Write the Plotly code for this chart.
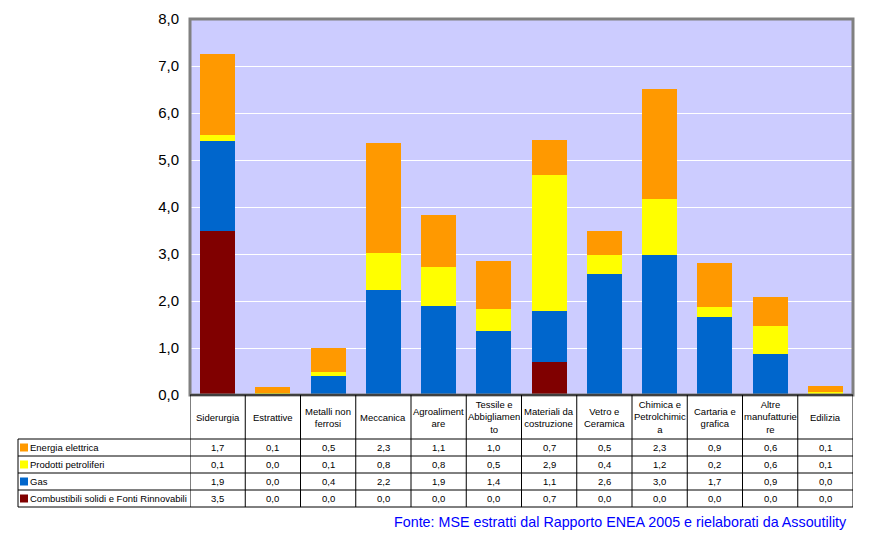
import plotly.graph_objects as go

categories = ["Siderurgia", "Estrattive", "Metalli non ferrosi", "Meccanica",
              "Agroalimentare", "Tessile e Abbigliamento", "Materiali da costruzione",
              "Vetro e Ceramica", "Chimica e Petrolchimica", "Cartaria e grafica",
              "Altre manufatturiere", "Edilizia"]
header_labels = ["Siderurgia", "Estrattive", "Metalli non<br>ferrosi", "Meccanica",
                 "Agroaliment<br>are", "Tessile e<br>Abbigliamen<br>to", "Materiali da<br>costruzione",
                 "Vetro e<br>Ceramica", "Chimica e<br>Petrolchimic<br>a", "Cartaria e<br>grafica",
                 "Altre<br>manufatturie<br>re", "Edilizia"]

combustibili = [3.50, 0.0, 0.0, 0.0, 0.0, 0.0, 0.70, 0.0, 0.0, 0.0, 0.0, 0.0]
gas = [1.91, 0.0, 0.40, 2.24, 1.89, 1.36, 1.08, 2.57, 2.97, 1.66, 0.87, 0.0]
prodotti = [0.13, 0.04, 0.09, 0.79, 0.83, 0.47, 2.91, 0.40, 1.21, 0.21, 0.59, 0.06]
energia = [1.72, 0.13, 0.51, 2.33, 1.10, 1.02, 0.74, 0.53, 2.34, 0.93, 0.62, 0.14]

series_names = ["Energia elettrica", "Prodotti petroliferi", "Gas",
                "Combustibili solidi e Fonti Rinnovabili"]
series_values = [energia, prodotti, gas, combustibili]
series_colors = ["#FF9900", "#FFFF00", "#0066CC", "#800000"]

y_ticks = [0, 1, 2, 3, 4, 5, 6, 7, 8]
source_text = "Fonte: MSE estratti dal Rapporto ENEA 2005 e rielaborati da Assoutility"

W, H = 874, 552
OFF = 8  # page body margin
FONT = "Liberation Sans, Arial, sans-serif"
TAB_FS = 9.5


def py(p):
    return 1 - (p - OFF) / H


def px(p):
    return (p - OFF) / W


x0_plot, x1_plot = 190, 853
y_top, y_base = 19, 395
y_head_bot = 439
row_h = 17
legend_left = 18

fig = go.Figure()
# stacked bottom to top
for name, vals, col in reversed(list(zip(series_names, series_values, series_colors))):
    fig.add_trace(go.Bar(x=categories, y=vals, name=name,
                         marker=dict(color=col, line=dict(width=0)), showlegend=False))

fig.update_layout(
    width=W, height=H, autosize=False,
    margin=dict(l=0, r=0, t=0, b=0, pad=0),
    paper_bgcolor="white", plot_bgcolor="#CCCCFF",
    barmode="stack", bargap=0.37,
    separators=",.",
    font=dict(family=FONT, color="#000000"),
    xaxis=dict(domain=[px(x0_plot), px(x1_plot)], range=[-0.5, len(categories) - 0.5],
               showticklabels=False, showgrid=False, zeroline=False, ticks="", automargin=False),
    yaxis=dict(domain=[py(y_base), py(y_top)], range=[0, 8], tickvals=y_ticks,
               tickformat=".1f", showgrid=True, gridcolor="white", gridwidth=1,
               zeroline=False, ticks="", ticklabelstandoff=10, automargin=False,
               tickfont=dict(size=15, family=FONT, color="#000000")),
)

# plot frame
fig.add_shape(type="rect", xref="paper", yref="paper",
              x0=px(x0_plot), x1=px(x1_plot), y0=py(y_base), y1=py(y_top),
              line=dict(color="#808080", width=3), layer="above")

shapes = []
line = dict(color="black", width=1)
shapes.append(dict(type="line", xref="paper", yref="paper", x0=px(x0_plot), x1=px(x1_plot),
                   y0=py(y_base), y1=py(y_base), line=line))
for i in range(len(series_names) + 1):
    yy = y_head_bot + i * row_h
    shapes.append(dict(type="line", xref="paper", yref="paper", x0=px(legend_left), x1=px(x1_plot),
                       y0=py(yy), y1=py(yy), line=line))
y_tab_bot = y_head_bot + len(series_names) * row_h
for k in range(len(categories) + 1):
    shapes.append(dict(type="line", xref="x", yref="paper", x0=k - 0.5, x1=k - 0.5,
                       y0=py(y_base), y1=py(y_tab_bot), line=line))
shapes.append(dict(type="line", xref="paper", yref="paper", x0=px(legend_left), x1=px(legend_left),
                   y0=py(y_head_bot), y1=py(y_tab_bot), line=line))
for i, col in enumerate(series_colors):
    cy = y_head_bot + i * row_h + row_h / 2
    shapes.append(dict(type="rect", xref="paper", yref="paper",
                       x0=px(20), x1=px(28), y0=py(cy + 4), y1=py(cy - 4),
                       fillcolor=col, line=dict(width=0)))
for s in shapes:
    fig.add_shape(**s)

for cat, lab in zip(categories, header_labels):
    fig.add_annotation(x=cat, xref="x", y=py((y_base + y_head_bot) / 2), yref="paper",
                       text=lab, showarrow=False, font=dict(size=TAB_FS, family=FONT, color="black"),
                       xanchor="center", yanchor="middle", align="center")
for i, (name, vals) in enumerate(zip(series_names, series_values)):
    cy = y_head_bot + i * row_h + row_h / 2
    fig.add_annotation(x=px(28), xref="paper", y=py(cy), yref="paper", text=name,
                       showarrow=False, xanchor="left", yanchor="middle",
                       font=dict(size=TAB_FS, family=FONT, color="black"))
    for cat, v in zip(categories, vals):
        fig.add_annotation(x=cat, xref="x", y=py(cy), yref="paper",
                           text=f"{v:.1f}".replace(".", ","), showarrow=False,
                           xanchor="center", yanchor="middle",
                           font=dict(size=TAB_FS, family=FONT, color="black"))

fig.add_annotation(x=px(849), xref="paper", y=py(522), yref="paper", text=source_text,
                   showarrow=False, xanchor="right", yanchor="middle",
                   font=dict(size=14.3, family=FONT, color="#0000FF"))

fig.write_html("out.html")
